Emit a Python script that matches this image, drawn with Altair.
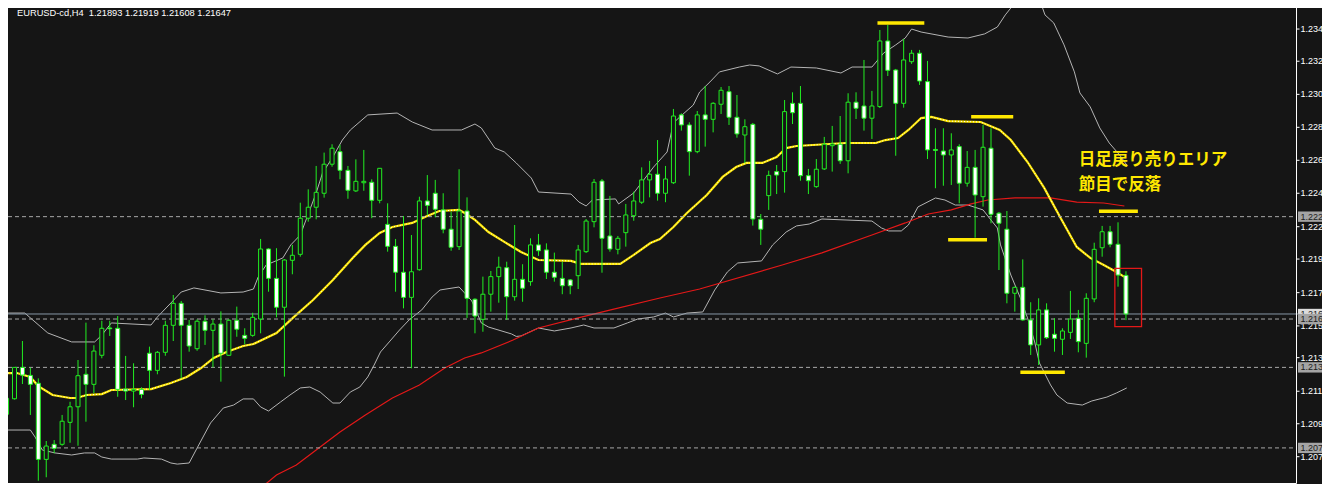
import altair as alt
import pandas as pd

# ---------------- data (EURUSD H4) ----------------
OPEN = [1.21008, 1.21107, 1.21307, 1.21256, 1.21206, 1.20721, 1.20817, 1.20817, 1.20957, 1.21056,
        1.21263, 1.21199, 1.21384, 1.21558, 1.21556, 1.21169, 1.21156, 1.21167, 1.21397, 1.21288,
        1.21403, 1.21575, 1.21715, 1.21575, 1.21426, 1.21601, 1.21543, 1.21583, 1.21384, 1.21607,
        1.21511, 1.21511, 1.21615, 1.22061, 1.21874, 1.21690, 1.21989, 1.22027, 1.22257, 1.22327,
        1.22416, 1.22601, 1.22681, 1.22562, 1.22431, 1.22483, 1.22486, 1.22371, 1.22218, 1.22078,
        1.21913, 1.21753, 1.21929, 1.22367, 1.22416, 1.22310, 1.22187, 1.22076, 1.22303, 1.21741,
        1.21613, 1.21773, 1.21885, 1.21942, 1.21757, 1.21868, 1.21853, 1.22087, 1.22055, 1.21913,
        1.21874, 1.21864, 1.21891, 1.22044, 1.22235, 1.22494, 1.22144, 1.22059, 1.22165, 1.22273,
        1.22359, 1.22501, 1.22537, 1.22416, 1.22483, 1.22915, 1.22851, 1.22681, 1.22915, 1.22887,
        1.22983, 1.23063, 1.22900, 1.22787, 1.22855, 1.22250, 1.22401, 1.22554, 1.22554, 1.22989,
        1.22989, 1.22528, 1.22458, 1.22571, 1.22719, 1.22728, 1.22623, 1.22996, 1.22972, 1.22894,
        1.22968, 1.23386, 1.23201, 1.22989, 1.23254, 1.23308, 1.23127, 1.22695, 1.22685, 1.22660,
        1.22713, 1.22480, 1.22581, 1.22394, 1.22703, 1.22289, 1.22187, 1.21779, 1.21817, 1.21609,
        1.21450, 1.21673, 1.21518, 1.21486, 1.21530, 1.21620, 1.21460, 1.21743, 1.22069, 1.22171,
        1.22091, 1.21893]
HIGH = [1.21150, 1.21309, 1.21475, 1.21305, 1.21237, 1.20838, 1.20844, 1.21004, 1.21088, 1.21354,
        1.21592, 1.21448, 1.21604, 1.21604, 1.21634, 1.21380, 1.21333, 1.21180, 1.21439, 1.21411,
        1.21604, 1.21768, 1.21730, 1.21609, 1.21613, 1.21639, 1.21613, 1.21664, 1.21613, 1.21694,
        1.21556, 1.21655, 1.22125, 1.22066, 1.22066, 1.21997, 1.22087, 1.22356, 1.22441, 1.22590,
        1.22675, 1.22728, 1.22724, 1.22590, 1.22632, 1.22692, 1.22505, 1.22575, 1.22352, 1.22125,
        1.22271, 1.22150, 1.22394, 1.22532, 1.22501, 1.22416, 1.22299, 1.22569, 1.22390, 1.21747,
        1.21885, 1.21921, 1.22012, 1.21980, 1.22214, 1.21964, 1.22129, 1.22157, 1.22097, 1.22038,
        1.21980, 1.21870, 1.22087, 1.22252, 1.22507, 1.22507, 1.22399, 1.22144, 1.22348, 1.22426,
        1.22581, 1.22622, 1.22755, 1.22590, 1.22953, 1.22925, 1.22868, 1.22940, 1.23099, 1.22996,
        1.23093, 1.23099, 1.23042, 1.22887, 1.22864, 1.22284, 1.22560, 1.22596, 1.23010, 1.23059,
        1.23099, 1.22571, 1.22634, 1.22775, 1.22845, 1.22908, 1.23053, 1.23059, 1.23265, 1.23068,
        1.23456, 1.23488, 1.23208, 1.23399, 1.23329, 1.23329, 1.23259, 1.22830, 1.22830, 1.22798,
        1.22728, 1.22685, 1.22692, 1.22851, 1.22830, 1.22297, 1.22303, 1.21821, 1.21995, 1.21722,
        1.21747, 1.21715, 1.21620, 1.21556, 1.21794, 1.21673, 1.21779, 1.22101, 1.22208, 1.22208,
        1.22231, 1.21919]
LOW = [1.20997, 1.21102, 1.21201, 1.21004, 1.20585, 1.20607, 1.20760, 1.20808, 1.20827, 1.20808,
       1.20961, 1.21142, 1.21365, 1.21507, 1.21120, 1.21099, 1.21053, 1.21110, 1.21163, 1.21263,
       1.21381, 1.21475, 1.21237, 1.21407, 1.21413, 1.21450, 1.21307, 1.21216, 1.21380, 1.21502,
       1.21454, 1.21502, 1.21524, 1.21789, 1.21626, 1.21248, 1.21900, 1.22012, 1.22235, 1.22250,
       1.22388, 1.22585, 1.22505, 1.22381, 1.22424, 1.22432, 1.22257, 1.22352, 1.22044, 1.21789,
       1.21683, 1.21301, 1.21923, 1.22278, 1.22263, 1.22161, 1.22050, 1.22055, 1.21622, 1.21524,
       1.21534, 1.21662, 1.21719, 1.21609, 1.21732, 1.21725, 1.21827, 1.22017, 1.21870, 1.21853,
       1.21773, 1.21773, 1.21806, 1.22036, 1.22199, 1.21910, 1.22044, 1.22027, 1.22076, 1.22241,
       1.22348, 1.22390, 1.22369, 1.22359, 1.22475, 1.22815, 1.22528, 1.22671, 1.22713, 1.22804,
       1.22921, 1.22851, 1.22770, 1.22607, 1.22210, 1.22087, 1.22310, 1.22411, 1.22420, 1.22857,
       1.22496, 1.22411, 1.22451, 1.22564, 1.22554, 1.22603, 1.22543, 1.22889, 1.22815, 1.22762,
       1.22959, 1.23163, 1.22655, 1.22961, 1.23240, 1.23106, 1.22634, 1.22448, 1.22464, 1.22469,
       1.22352, 1.22458, 1.22133, 1.22331, 1.22225, 1.21927, 1.21715, 1.21662, 1.21604, 1.21386,
       1.21322, 1.21488, 1.21407, 1.21386, 1.21488, 1.21403, 1.21369, 1.21722, 1.22012, 1.22072,
       1.21821, 1.21608]
CLOSE = [1.21110, 1.21307, 1.21258, 1.21199, 1.20721, 1.20806, 1.20791, 1.20964, 1.21056, 1.21254,
         1.21199, 1.21411, 1.21556, 1.21553, 1.21167, 1.21156, 1.21167, 1.21135, 1.21288, 1.21403,
         1.21575, 1.21715, 1.21575, 1.21443, 1.21601, 1.21543, 1.21583, 1.21397, 1.21607, 1.21550,
         1.21492, 1.21626, 1.22061, 1.21874, 1.21690, 1.21991, 1.22021, 1.22257, 1.22327, 1.22422,
         1.22601, 1.22703, 1.22562, 1.22435, 1.22492, 1.22492, 1.22371, 1.22575, 1.22078, 1.21913,
         1.21753, 1.21916, 1.22367, 1.22339, 1.22314, 1.22187, 1.22072, 1.22303, 1.21747, 1.21634,
         1.21773, 1.21885, 1.21945, 1.21757, 1.21868, 1.21811, 1.22087, 1.22050, 1.21913, 1.21881,
         1.21827, 1.21827, 1.22055, 1.22239, 1.22486, 1.22129, 1.22061, 1.22129, 1.22278, 1.22367,
         1.22501, 1.22537, 1.22416, 1.22507, 1.22908, 1.22851, 1.22681, 1.22915, 1.22887, 1.22989,
         1.23072, 1.22900, 1.22794, 1.22840, 1.22252, 1.22187, 1.22530, 1.22532, 1.22936, 1.22929,
         1.22528, 1.22496, 1.22569, 1.22728, 1.22730, 1.22623, 1.22996, 1.22957, 1.22894, 1.22972,
         1.23386, 1.23199, 1.22989, 1.23265, 1.23308, 1.23131, 1.22692, 1.22689, 1.22660, 1.22692,
         1.22480, 1.22581, 1.22405, 1.22709, 1.22282, 1.22225, 1.21779, 1.21817, 1.21609, 1.21450,
         1.21673, 1.21496, 1.21492, 1.21539, 1.21615, 1.21471, 1.21747, 1.22059, 1.22171, 1.22091,
         1.21895, 1.21647]

UPPER_BAND = [(-0.2, 1.21653), (2.3, 1.21653), (5.2, 1.21526), (8.2, 1.21469), (11.1, 1.21469),
              (12.0, 1.21513), (13.2, 1.21590), (18.2, 1.21577), (19.0, 1.21628), (20.7, 1.21717),
              (22.0, 1.21787), (23.6, 1.21813), (27.0, 1.21781), (29.8, 1.21787), (31.1, 1.21806),
              (31.7, 1.21883), (32.7, 1.21959), (34.8, 1.22004), (35.8, 1.22087), (37.0, 1.22150),
              (39.0, 1.22418), (39.8, 1.22545), (41.1, 1.22647), (42.3, 1.22755), (43.3, 1.22819),
              (45.5, 1.22915), (49.2, 1.22927), (51.1, 1.22870), (53.6, 1.22819), (57.3, 1.22819),
              (59.0, 1.22857), (59.8, 1.22832), (61.5, 1.22704), (62.7, 1.22679), (64.2, 1.22609),
              (66.1, 1.22513), (67.0, 1.22424), (71.1, 1.22411), (72.1, 1.22360), (73.0, 1.22335),
              (73.8, 1.22373), (76.7, 1.22380), (77.1, 1.22348), (79.0, 1.22418), (81.5, 1.22583),
              (83.2, 1.22679), (84.0, 1.22864), (84.8, 1.22902), (86.5, 1.22978), (87.3, 1.23061),
              (88.6, 1.23125), (89.8, 1.23189), (92.3, 1.23220), (93.6, 1.23233), (94.8, 1.23227),
              (97.1, 1.23176), (98.8, 1.23220), (102.0, 1.23214), (105.1, 1.23182), (106.5, 1.23220),
              (109.0, 1.23220), (110.5, 1.23310), (112.0, 1.23361), (113.2, 1.23405), (114.0, 1.23462),
              (115.2, 1.23443), (118.6, 1.23411), (121.1, 1.23405), (123.2, 1.23431), (124.8, 1.23475),
              (125.8, 1.23552), (127.3, 1.23647), (128.6, 1.23724), (129.8, 1.23698), (130.8, 1.23552),
              (131.9, 1.23501), (133.2, 1.23361), (134.5, 1.23189), (135.2, 1.23055), (136.5, 1.22966),
              (137.7, 1.22832), (138.9, 1.22736), (140.2, 1.22660), (141.1, 1.22596)]
LOWER_BAND = [(-0.2, 1.20908), (3.0, 1.20908), (3.6, 1.20863), (4.5, 1.20781), (6.1, 1.20762),
              (8.2, 1.20749), (9.8, 1.20762), (11.1, 1.20762), (12.0, 1.20736), (13.2, 1.20723),
              (16.5, 1.20723), (17.3, 1.20730), (19.5, 1.20723), (20.7, 1.20698), (21.5, 1.20691),
              (23.0, 1.20698), (24.0, 1.20793), (25.7, 1.20953), (27.3, 1.21048), (28.6, 1.21067),
              (29.8, 1.21106), (31.1, 1.21106), (32.0, 1.21055), (33.0, 1.21029), (34.5, 1.21086),
              (35.7, 1.21131), (37.0, 1.21176), (38.2, 1.21182), (39.5, 1.21150), (41.1, 1.21080),
              (42.0, 1.21080), (43.3, 1.21150), (44.5, 1.21182), (45.5, 1.21246), (46.3, 1.21322),
              (47.1, 1.21405), (48.2, 1.21469), (49.5, 1.21545), (50.7, 1.21609), (52.3, 1.21673),
              (53.6, 1.21755), (54.6, 1.21800), (57.0, 1.21819), (57.7, 1.21781), (58.6, 1.21730),
              (59.8, 1.21590), (60.7, 1.21564), (63.6, 1.21520), (64.2, 1.21504), (64.8, 1.21507),
              (67.0, 1.21558), (69.0, 1.21539), (71.1, 1.21558), (72.7, 1.21577), (74.0, 1.21558),
              (76.5, 1.21558), (78.2, 1.21590), (79.5, 1.21615), (81.5, 1.21628), (83.0, 1.21653),
              (84.0, 1.21628), (85.7, 1.21653), (87.7, 1.21660), (89.2, 1.21800), (90.8, 1.21915),
              (92.1, 1.21972), (95.1, 1.21985), (96.5, 1.22087), (98.2, 1.22169), (99.5, 1.22208),
              (101.1, 1.22220), (102.7, 1.22252), (109.0, 1.22239), (110.2, 1.22195), (111.1, 1.22176),
              (112.7, 1.22176), (113.6, 1.22214), (114.8, 1.22329), (117.0, 1.22386), (118.2, 1.22373),
              (119.5, 1.22341), (121.1, 1.22341), (123.0, 1.22310), (123.8, 1.22258), (124.8, 1.22195),
              (125.2, 1.22087), (126.5, 1.21895), (127.7, 1.21749), (128.6, 1.21622), (129.5, 1.21469),
              (130.1, 1.21335), (131.5, 1.21195), (132.3, 1.21131), (133.6, 1.21080), (135.5, 1.21067),
              (136.7, 1.21093), (138.6, 1.21118), (139.8, 1.21144), (141.1, 1.21176)]
MIDDLE_MA = [(-0.2, 1.21271), (1.3, 1.21271), (3.0, 1.21246), (4.0, 1.21188), (5.8, 1.21131),
             (8.0, 1.21112), (8.8, 1.21112), (10.1, 1.21131), (12.0, 1.21137), (13.2, 1.21163),
             (18.2, 1.21169), (20.7, 1.21207), (22.7, 1.21246), (24.5, 1.21303), (26.1, 1.21367),
             (27.7, 1.21405), (29.8, 1.21443), (31.1, 1.21456), (34.0, 1.21526), (36.1, 1.21624),
             (38.6, 1.21736), (41.1, 1.21864), (43.6, 1.22004), (45.2, 1.22087), (47.0, 1.22163),
             (48.6, 1.22201), (51.1, 1.22227), (52.7, 1.22265), (54.5, 1.22303), (57.0, 1.22310),
             (57.7, 1.22290), (59.0, 1.22246), (60.7, 1.22169), (62.7, 1.22106), (64.8, 1.22042),
             (67.0, 1.21991), (71.1, 1.21985), (72.3, 1.21966), (77.3, 1.21966), (79.0, 1.22023),
             (81.1, 1.22099), (82.3, 1.22125), (84.0, 1.22201), (85.7, 1.22290), (88.2, 1.22405),
             (90.2, 1.22520), (91.9, 1.22583), (93.2, 1.22609), (95.2, 1.22609), (97.0, 1.22647),
             (98.2, 1.22704), (99.5, 1.22717), (105.7, 1.22736), (109.5, 1.22736), (110.7, 1.22755),
             (112.3, 1.22768), (113.6, 1.22819), (115.2, 1.22895), (116.5, 1.22902), (118.6, 1.22876),
             (122.7, 1.22870), (125.1, 1.22819), (126.5, 1.22755), (128.6, 1.22615), (130.7, 1.22450),
             (132.7, 1.22265), (134.8, 1.22074), (136.5, 1.22004), (138.2, 1.21959), (139.8, 1.21915),
             (140.8, 1.21883)]
LONG_MA = [(30.5, 1.20481), (31.3, 1.20508), (34.0, 1.20621), (36.5, 1.20685), (39.0, 1.20781),
           (42.0, 1.20895), (45.2, 1.21004), (48.6, 1.21112), (52.0, 1.21195), (55.2, 1.21303),
           (57.7, 1.21367), (59.8, 1.21399), (63.8, 1.21481), (67.0, 1.21558), (72.0, 1.21622),
           (76.1, 1.21673), (82.3, 1.21749), (87.3, 1.21806), (97.7, 1.21959), (102.7, 1.22036),
           (109.0, 1.22150), (113.2, 1.22227), (116.1, 1.22284), (119.0, 1.22310), (121.5, 1.22348),
           (123.6, 1.22373), (127.0, 1.22386), (131.5, 1.22386), (134.8, 1.22360), (138.2, 1.22354),
           (140.8, 1.22335)]

LEVELS = [1.22267, 1.21615, 1.21307, 1.20794]
LEVEL_TEXT = ["1.222", "1.216", "1.213", "1.207"]
BID = 1.21647
BID_TEXT = "1.216"

MARK_FROM = [109.7, 121.5, 118.6, 127.7, 137.6]
MARK_TO = [115.6, 126.8, 123.5, 133.3, 142.5]
MARK_PRICE = [1.23501, 1.22904, 1.22120, 1.21276, 1.22301]

BOX_BARS = [139.6, 142.96]
BOX_PRICES = [1.21566, 1.21938]

NOTE_TEXT = ["日足戻り売りエリア", "節目で反落"]
NOTE_PRICE = [1.22625, 1.22469]
NOTE_BAR = 135.05

Y_TICKS = [1.23462, 1.23257, 1.23046, 1.22836, 1.22626, 1.22416, 1.22203, 1.21997,
           1.21783, 1.21571, 1.21369, 1.21155, 1.20948, 1.20738]
TITLE = "EURUSD-cd,H4\u00a0 1.21893 1.21919 1.21608 1.21647"

# ---------------- styling ----------------
W, H = 1314, 476
BG = "#151515"
LIME = "#22ee22"
YELLOW = "#ffe800"
GRAY_BAND = "#b4b4b4"
RED = "#e41818"
AXIS_X = 1288      # pixel position of the price-scale line
AXIS_Y = 475.5     # pixel position of the time-scale line
LABEL_FONT = "Liberation Sans"

xs = alt.Scale(domain=[0.8125, 0.8125 + W / 8], nice=False, zero=False)
ys = alt.Scale(domain=[1.205642, 1.235960], nice=False, zero=False)


def X(field, **kw):
    return alt.X(field, type="quantitative", scale=xs, axis=None, **kw)


def Y(field, **kw):
    return alt.Y(field, type="quantitative", scale=ys, axis=None, **kw)


def series(pairs):
    return pd.DataFrame({"bar": [p[0] for p in pairs], "price": [p[1] for p in pairs]})


candles = pd.DataFrame({"bar": list(range(len(OPEN))), "open": OPEN, "high": HIGH,
                        "low": LOW, "close": CLOSE})
candles["dir"] = ["up" if c >= o else "down" for o, c in zip(OPEN, CLOSE)]
one = pd.DataFrame({"a": [0]})

upper = alt.Chart(series(UPPER_BAND)).mark_line(color=GRAY_BAND, strokeWidth=1, clip=True).encode(
    x=X("bar"), y=Y("price"))
lower = alt.Chart(series(LOWER_BAND)).mark_line(color=GRAY_BAND, strokeWidth=1, clip=True).encode(
    x=X("bar"), y=Y("price"))
long_ma = alt.Chart(series(LONG_MA)).mark_line(color=RED, strokeWidth=1.2, clip=True).encode(
    x=X("bar"), y=Y("price"))
mid = alt.Chart(series(MIDDLE_MA)).mark_line(color=YELLOW, strokeWidth=2.2, clip=True).encode(
    x=X("bar"), y=Y("price"))
mid_dots = alt.Chart(series(MIDDLE_MA)).mark_line(color="#ffffff", strokeWidth=1, strokeDash=[1, 2],
                                                  clip=True).encode(x=X("bar"), y=Y("price"))

levels = alt.Chart(pd.DataFrame({"price": LEVELS})).mark_rule(
    color="#a8a8a8", strokeWidth=1, strokeDash=[4, 3]).encode(
    y=Y("price"), x=alt.value(0), x2=alt.value(AXIS_X))
bid = alt.Chart(pd.DataFrame({"price": [BID]})).mark_rule(color="#8796a5", strokeWidth=1).encode(
    y=Y("price"), x=alt.value(0), x2=alt.value(AXIS_X + 2))

wicks = alt.Chart(candles).mark_rule(color=LIME, strokeWidth=1).encode(
    x=X("bar"), y=Y("low"), y2=alt.Y2("high"))
bodies = alt.Chart(candles).mark_bar(size=4, stroke=LIME, strokeWidth=1).encode(
    x=X("bar"), y=Y("open"), y2=alt.Y2("close"),
    fill=alt.Fill("dir:N", scale=alt.Scale(domain=["up", "down"], range=[BG, "#ffffff"]), legend=None))

marks_df = pd.DataFrame({"x0": MARK_FROM, "x1": MARK_TO, "price": MARK_PRICE})
markers = alt.Chart(marks_df).mark_rule(color=YELLOW, strokeWidth=3.5).encode(
    x=X("x0"), x2=alt.X2("x1"), y=Y("price"))

box = alt.Chart(pd.DataFrame({"x0": [BOX_BARS[0]], "x1": [BOX_BARS[1]],
                              "lo": [BOX_PRICES[0]], "hi": [BOX_PRICES[1]]})).mark_rect(
    fillOpacity=0, stroke=RED, strokeWidth=1.3).encode(
    x=X("x0"), x2=alt.X2("x1"), y=Y("lo"), y2=alt.Y2("hi"))

notes = alt.Chart(pd.DataFrame({"bar": [NOTE_BAR] * len(NOTE_TEXT), "price": NOTE_PRICE,
                                "t": NOTE_TEXT})).mark_text(
    align="left", baseline="middle", font="Noto Sans CJK JP", fontWeight="bold",
    fontSize=16.5, color=YELLOW).encode(x=X("bar"), y=Y("price"), text="t:N")

# price scale (right) and time scale (bottom) frame lines
vline = alt.Chart(one).mark_rule(color="#ffffff", strokeWidth=1).encode(
    x=alt.value(AXIS_X + 0.5), y=alt.value(0), y2=alt.value(AXIS_Y))
hline = alt.Chart(one).mark_rule(color="#ffffff", strokeWidth=1).encode(
    y=alt.value(AXIS_Y), x=alt.value(0), x2=alt.value(AXIS_X + 0.5))

ticks_df = pd.DataFrame({"price": Y_TICKS})
y_ticks = alt.Chart(ticks_df).mark_rule(color="#ffffff", strokeWidth=1).encode(
    y=Y("price"), x=alt.value(AXIS_X), x2=alt.value(AXIS_X + 3.5))
y_labels = alt.Chart(ticks_df).transform_calculate(
    lab="format(floor(datum.price * 1000 + 0.000001) / 1000, '.3f')").mark_text(
    align="left", baseline="middle", font=LABEL_FONT, fontSize=9, color="#ffffff").encode(
    y=Y("price"), x=alt.value(AXIS_X + 4.5), text="lab:N")

bid_box = alt.Chart(pd.DataFrame({"price": [BID], "t": [BID_TEXT]})).transform_calculate(
    lo="datum.price - 0.00033", hi="datum.price + 0.00033")
bid_rect = bid_box.mark_rect(color="#dcdcdc").encode(
    y=Y("lo:Q"), y2=alt.Y2("hi:Q"), x=alt.value(AXIS_X + 2), x2=alt.value(W))
bid_txt = bid_box.mark_text(align="left", baseline="middle", font=LABEL_FONT, fontSize=9,
                            color="#202020").encode(y=Y("price"), x=alt.value(AXIS_X + 4.5), text="t:N")

lvl_box = alt.Chart(pd.DataFrame({"price": LEVELS, "t": LEVEL_TEXT})).transform_calculate(
    lo="datum.price - 0.00033", hi="datum.price + 0.00033")
lvl_rect = lvl_box.mark_rect(color="#a4a4a4").encode(
    y=Y("lo:Q"), y2=alt.Y2("hi:Q"), x=alt.value(AXIS_X + 2), x2=alt.value(W))
lvl_txt = lvl_box.mark_text(align="left", baseline="middle", font=LABEL_FONT, fontSize=9,
                            color="#1c1c1c").encode(y=Y("price"), x=alt.value(AXIS_X + 4.5), text="t:N")

title = alt.Chart(pd.DataFrame({"t": [TITLE]})).mark_text(
    align="left", baseline="top", font=LABEL_FONT, fontSize=9.3, color="#ffffff").encode(
    x=alt.value(9), y=alt.value(1), text="t:N")

chart = alt.layer(
    upper, lower, long_ma, mid, mid_dots, levels, bid,
    wicks, bodies, markers, box, notes,
    vline, hline, y_ticks, y_labels, bid_rect, bid_txt, lvl_rect, lvl_txt, title,
).properties(
    width=W, height=H, background=BG, padding=0,
    autosize=alt.AutoSizeParams(type="none"),
).configure_view(stroke=None)

chart.save("out.html", embed_options={"renderer": "svg", "actions": False})
